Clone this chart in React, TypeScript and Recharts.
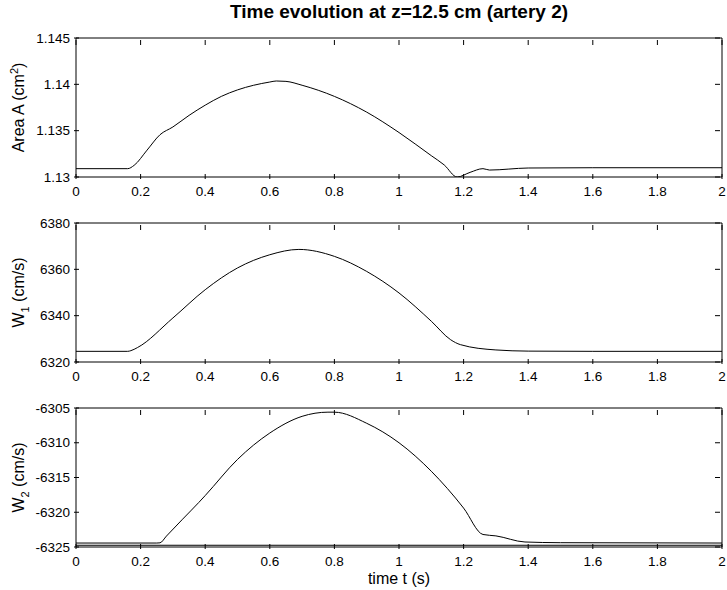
import { LineChart, Line, XAxis, YAxis, ReferenceLine, ReferenceArea } from "recharts";

// time axis
const timeTicks = [0, 0.2, 0.4, 0.6, 0.8, 1, 1.2, 1.4, 1.6, 1.8, 2];

// area A (cm^2)
const areaTime = [0, 0.16, 0.18, 0.22, 0.26, 0.3, 0.35, 0.4, 0.45, 0.5, 0.55, 0.6, 0.62, 0.65, 0.7, 0.8, 0.9, 1.0, 1.1, 1.14, 1.18, 1.22, 1.26, 1.28, 1.4, 1.6, 2];
const areaValues = [1.1309, 1.1309, 1.13126, 1.1329, 1.13456, 1.1354, 1.13665, 1.13775, 1.1387, 1.1394, 1.1399, 1.14025, 1.14036, 1.14032, 1.1399, 1.1387, 1.137, 1.1348, 1.1323, 1.1313, 1.13, 1.1305, 1.1309, 1.13075, 1.13097, 1.131, 1.131];
const areaTicks = [1.13, 1.135, 1.14, 1.145];

// W1 (cm/s)
const w1Time = [0, 0.16, 0.17, 0.19, 0.3, 0.4, 0.5, 0.6, 0.69, 0.8, 0.9, 1.0, 1.1, 1.16, 1.19, 1.3, 1.4, 1.6, 2];
const w1Values = [6324.6, 6324.6, 6324.9, 6326.2, 6339.0, 6351.2, 6360.6, 6366.3, 6368.6, 6365.6, 6359.1, 6349.8, 6337.6, 6329.6, 6327.5, 6325.2, 6324.7, 6324.6, 6324.6];
const w1Ticks = [6320, 6340, 6360, 6380];

// W2 (cm/s)
const w2Time = [0, 0.25, 0.26, 0.28, 0.33, 0.38, 0.4, 0.5, 0.6, 0.7, 0.78, 0.8, 0.9, 1.0, 1.1, 1.2, 1.26, 1.3, 1.39, 1.5, 2];
const w2Values = [-6324.43, -6324.43, -6324.4, -6323.43, -6321.0, -6318.6, -6317.6, -6312.4, -6308.6, -6306.2, -6305.6, -6305.6, -6307.2, -6310.0, -6314.1, -6319.4, -6323.2, -6323.4, -6324.28, -6324.38, -6324.43];
const w2Ticks = [-6325, -6320, -6315, -6310, -6305];
const w2Baseline = -6324.75;

const FONT = "'Liberation Sans', Arial, Helvetica, sans-serif";
const TICK_LEN = 5;
const PLOT_W = 646;
const PLOT_H = 139;
const TOP_PAD = 10;

function BottomTick(props: any) {
  const { x, y, payload } = props;
  return (
    <g>
      <line x1={x} x2={x} y1={y} y2={y - TICK_LEN} stroke="#000" />
      <line x1={x} x2={x} y1={y - PLOT_H} y2={y - PLOT_H + TICK_LEN} stroke="#000" />
      <text x={x} y={y + 17} textAnchor="middle" fontSize={13.5} fontFamily={FONT} fill="#000">
        {String(payload.value)}
      </text>
    </g>
  );
}

function LeftTick(props: any) {
  const { x, y, payload } = props;
  return (
    <g>
      <line x1={x} x2={x + TICK_LEN} y1={y} y2={y} stroke="#000" />
      <line x1={x + PLOT_W} x2={x + PLOT_W - TICK_LEN} y1={y} y2={y} stroke="#000" />
      <text x={x - 4} y={y} dy="0.35em" textAnchor="end" fontSize={13.5} fontFamily={FONT} fill="#000">
        {String(payload.value)}
      </text>
    </g>
  );
}

function yLabel(kind: "area" | "w1" | "w2") {
  return (p: any) => {
    const vb = p.viewBox;
    const cx = vb.x + 24;
    const cy = vb.y + vb.height / 2;
    return (
      <text x={cx} y={cy} transform={`rotate(-90, ${cx}, ${cy})`} textAnchor="middle" fontSize={16} fontFamily={FONT} fill="#000">
        {kind === "area" ? (
          <>
            <tspan>Area A (cm</tspan>
            <tspan dy={-6} fontSize={11}>2</tspan>
            <tspan dy={6}>)</tspan>
          </>
        ) : (
          <>
            <tspan>W</tspan>
            <tspan dy={5} fontSize={11}>{kind === "w1" ? "1" : "2"}</tspan>
            <tspan dy={-5}> (cm/s)</tspan>
          </>
        )}
      </text>
    );
  };
}

function xLabel(p: any) {
  const vb = p.viewBox;
  return (
    <text x={vb.x + vb.width / 2} y={vb.y + 37} textAnchor="middle" fontSize={16} fontFamily={FONT} fill="#000">
      time t (s)
    </text>
  );
}

type PanelProps = {
  time: number[];
  values: number[];
  ticks: number[];
  kind: "area" | "w1" | "w2";
  top: number;
  bottomSpace: number;
  baseline?: number;
  showXLabel?: boolean;
};

function Panel({ time, values, ticks, kind, top, bottomSpace, baseline, showXLabel }: PanelProps) {
  const rows = time.map((t, i) => ({ t, v: values[i] }));
  const lo = ticks[0];
  const hi = ticks[ticks.length - 1];
  return (
    <div style={{ position: "absolute", left: 0, top }}>
      <LineChart width={727} height={TOP_PAD + PLOT_H + bottomSpace} data={rows} margin={{ top: TOP_PAD, right: 5, bottom: 0, left: 0 }}>
        <XAxis
          dataKey="t"
          type="number"
          domain={[0, 2]}
          ticks={timeTicks}
          interval={0}
          tickSize={0}
          tickLine={false}
          height={bottomSpace}
          axisLine={false}
          tick={<BottomTick />}
          label={showXLabel ? xLabel : undefined}
        />
        <YAxis
          type="number"
          domain={[lo, hi]}
          ticks={ticks}
          interval={0}
          allowDataOverflow
          width={76}
          tickSize={0}
          tickLine={false}
          axisLine={false}
          tick={<LeftTick />}
          label={yLabel(kind)}
        />
        <ReferenceArea x1={0} x2={2} y1={lo} y2={hi} fill="none" stroke="#000" strokeWidth={1} />
        {baseline !== undefined && <ReferenceLine y={baseline} stroke="#000" strokeWidth={1} />}
        <Line dataKey="v" type="monotone" stroke="#000" strokeWidth={1} dot={false} isAnimationActive={false} />
      </LineChart>
    </div>
  );
}

export default function App() {
  return (
    <div style={{ position: "absolute", left: 0, top: 0, width: 727, height: 590, background: "#fff", overflow: "hidden" }}>
      <div
        style={{
          position: "absolute",
          left: 76,
          width: 646,
          top: 1,
          textAlign: "center",
          fontFamily: FONT,
          fontWeight: "bold",
          fontSize: 19,
          color: "#000",
        }}
      >
        Time evolution at z=12.5 cm (artery 2)
      </div>
      <Panel time={areaTime} values={areaValues} ticks={areaTicks} kind="area" top={28} bottomSpace={36} />
      <Panel time={w1Time} values={w1Values} ticks={w1Ticks} kind="w1" top={213} bottomSpace={36} />
      <Panel time={w2Time} values={w2Values} ticks={w2Ticks} kind="w2" top={398} bottomSpace={43} baseline={w2Baseline} showXLabel />
    </div>
  );
}
